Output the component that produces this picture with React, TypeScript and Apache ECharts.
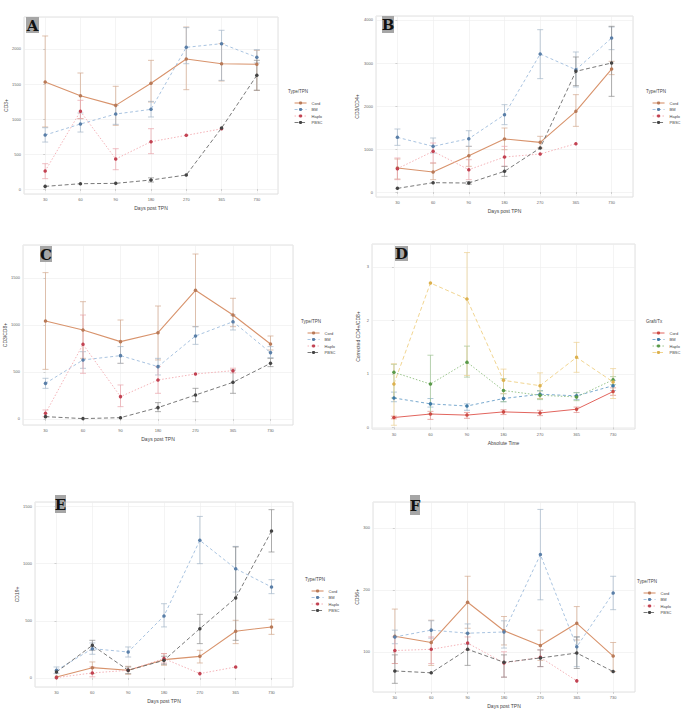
import React, { useEffect, useRef } from "react";
import * as echarts from "echarts";

const DAYS = ["30", "60", "90", "180", "270", "365", "730"];
const GROUPS = ["Cord", "BM", "Haplo", "PBSC"];

// Panel A (CD3+)
const A_MEAN = [
  [1529, 1333, 1195, 1510, 1857, 1790, 1781],
  [771, 929, 1071, 1138, 2024, 2076, 1881],
  [257, 1110, 429, 676, 767, 860, null],
  [38, 76, 81, 129, 200, 871, 1624],
];
const A_LOW = [
  [886, 1005, 910, 1243, 1419, 1543, 1410],
  [671, 814, 924, 1029, 1790, 1552, 1800],
  [148, 1005, 276, 505, null, null, null],
  [null, null, null, 100, null, null, 1410],
];
const A_HIGH = [
  [2186, 1657, 1467, 1838, 2314, 2076, 1981],
  [876, 1086, 1195, 1252, 2305, 2267, 1990],
  [362, 1267, 576, 862, null, null, null],
  [null, null, null, 160, null, null, 1838],
];

// Panel B
const B_MEAN = [
  [558, 465, 845, 1233, 1155, 1876, 2860],
  [1271, 1062, 1240, 1798, 3209, 2845, 3581],
  [543, 946, 519, 814, 884, 1124, null],
  [85, 217, 209, 481, 1023, 2806, 3000],
];
const B_LOW = [
  [302, 287, 597, 984, 1023, 1527, 2729],
  [1085, 907, 1062, 1566, 2636, 2442, 3310],
  [287, 674, 287, 597, null, null, null],
  [null, null, 180, 364, null, 2473, 2225],
];
const B_HIGH = [
  [767, 674, 1062, 1488, 1295, 2264, 3039],
  [1465, 1256, 1426, 2031, 3775, 3256, 3837],
  [791, 1140, 752, 1062, null, null, null],
  [null, null, 240, 597, null, 3140, 3853],
];

// Panel C
const C_MEAN = [
  [1043, 947, 823, 918, 1369, 1106, 798],
  [379, 628, 674, 557, 883, 1035, 706],
  [60, 794, 238, 415, 479, 514, null],
  [25, 4, 14, 121, 255, 390, 592],
];
const C_LOW = [
  [528, 645, 592, 628, 982, 982, 734],
  [326, 539, 592, 468, 794, 947, 652],
  [25, 486, 131, 273, null, 490, null],
  [null, null, null, 78, 184, 273, 557],
];
const C_HIGH = [
  [1557, 1248, 1053, 1202, 1755, 1284, 883],
  [433, 716, 770, 645, 982, 1106, 770],
  [96, 1106, 362, 557, null, 540, null],
  [null, null, null, 174, 326, 521, 645],
];

// Panel D
const D_MEAN = [
  [0.185, 0.25, 0.23, 0.29, 0.27, 0.34, 0.67],
  [0.55, 0.44, 0.4, 0.54, 0.62, 0.59, 0.78],
  [1.03, 0.81, 1.22, 0.69, 0.6, 0.57, 0.89],
  [0.81, 2.7, 2.4, 0.88, 0.78, 1.31, 0.85],
];
const D_LOW = [
  [0.16, 0.15, 0.17, 0.24, 0.22, 0.28, 0.6],
  [0.48, 0.38, 0.32, 0.48, 0.54, 0.52, 0.69],
  [0.55, 0.25, 0.94, 0.48, 0.52, 0.5, 0.8],
  [0.04, null, 0.97, 0.63, 0.54, 1.03, 0.54],
];
const D_HIGH = [
  [0.21, 0.3, 0.28, 0.33, 0.32, 0.38, 0.74],
  [0.66, 0.54, 0.44, 0.63, 0.69, 0.65, 0.88],
  [1.18, 1.35, 1.52, 0.91, 0.68, 0.65, 0.95],
  [1.19, null, 3.27, 1.09, 1.02, 1.59, 1.1],
];

// Panel E
const E_MEAN = [
  [9, 90, 67, 160, 189, 408, 446],
  [67, 256, 227, 542, 1203, 955, 795],
  [3, 44, 67, 169, 38, 96, null],
  [52, 285, 67, 154, 431, 699, 1284],
];
const E_LOW = [
  [null, 38, 32, 111, 131, 300, 381],
  [38, 207, 183, 446, 999, 751, 737],
  [null, 10, null, 130, null, null, null],
  [null, 242, 38, 120, 300, 329, 1101],
];
const E_HIGH = [
  [null, 140, 102, 213, 242, 504, 513],
  [96, 306, 271, 649, 1412, 1150, 859],
  [null, 96, null, 213, null, null, null],
  [null, 329, 96, 190, 556, 1145, 1471],
];

// Panel F
const F_MEAN = [
  [125, 115, 180, 134, 110, 146, 93],
  [124, 135, 130, 132, 257, 108, 195],
  [102, 104, 114, 82, 91, 53, null],
  [69, 66, 104, 83, 90, 98, 68],
];
const F_LOW = [
  [81, 78, 138, 111, 86, 119, 68],
  [113, 122, 112, 106, 184, 76, 168],
  [81, 81, 103, 59, 76, null, null],
  [49, null, 78, 59, 76, 73, null],
];
const F_HIGH = [
  [169, 151, 222, 157, 135, 173, 115],
  [135, 150, 145, 150, 330, 124, 222],
  [124, 124, 124, 100, 103, null, null],
  [95, null, 130, 95, 103, 124, null],
];

const STYLE_MAIN = [
  { line: "#d8936c", pt: "#b97a58", err: "#d2a78c", type: "solid", width: 1.1 },
  { line: "#9ebcdd", pt: "#5a7fa8", err: "#a4b6c9", type: [3, 2.5], width: 0.9 },
  { line: "#f3aab0", pt: "#c24252", err: "#eaa3aa", type: [1.5, 1.8], width: 0.9 },
  { line: "#6a6a6a", pt: "#444444", err: "#8c8c8c", type: [4, 2.5], width: 0.9 },
];
const STYLE_D = [
  { line: "#e2655e", pt: "#cc4a44", err: "#e08a85", type: "solid", width: 1 },
  { line: "#6a9fc8", pt: "#3f7aa6", err: "#8db0cc", type: [3, 2.5], width: 0.9 },
  { line: "#8fbe80", pt: "#5a9a4a", err: "#9cc290", type: [1.5, 1.8], width: 0.9 },
  { line: "#efd084", pt: "#dcb14e", err: "#ecd090", type: [4, 2.5], width: 0.9 },
];

const PANELS = [
  { letter: "A", mean: A_MEAN, low: A_LOW, high: A_HIGH, styles: STYLE_MAIN, yName: "CD3+", xName: "Days post TPN", legendTitle: "Type/TPN",
    grid: { left: 24, top: 17, width: 254, height: 177 }, yMin: -71, yMax: 2457, split: 5, nameGap: 16,
    legend: { left: 289, top: 96 }, letterBox: { x: 26, y: 17, w: 13, h: 16 } },
  { letter: "B", mean: B_MEAN, low: B_LOW, high: B_HIGH, styles: STYLE_MAIN, yName: "CD3/CD4+", xName: "Days post TPN", legendTitle: "Type/TPN",
    grid: { left: 376, top: 16, width: 257, height: 181 }, yMin: -116, yMax: 4093, split: 4, nameGap: 17,
    legend: { left: 647, top: 96 }, letterBox: { x: 382, y: 16, w: 12, h: 17 } },
  { letter: "C", mean: C_MEAN, low: C_LOW, high: C_HIGH, styles: STYLE_MAIN, yName: "CD3/CD8+", xName: "Days post TPN", legendTitle: "Type/TPN",
    grid: { left: 23, top: 245, width: 270, height: 180 }, yMin: -64, yMax: 1851, split: 4, nameGap: 15,
    legend: { left: 302, top: 326 }, letterBox: { x: 40, y: 246, w: 12, h: 16 } },
  { letter: "D", mean: D_MEAN, low: D_LOW, high: D_HIGH, styles: STYLE_D, yName: "Corrected CD4+/CD8+", xName: "Absolute Time", legendTitle: "Graft/Tx",
    grid: { left: 372, top: 244, width: 263, height: 185 }, yMin: -0.03, yMax: 3.43, split: 3, nameGap: 12,
    legend: { left: 647, top: 326 }, letterBox: { x: 395, y: 246, w: 13, h: 15 } },
  { letter: "E", mean: E_MEAN, low: E_LOW, high: E_HIGH, styles: STYLE_MAIN, yName: "CD19+", xName: "Days post TPN", legendTitle: "Type/TPN",
    grid: { left: 35, top: 502, width: 258, height: 185 }, yMin: -79, yMax: 1538, split: 3, nameGap: 14,
    legend: { left: 306, top: 584 }, letterBox: { x: 55, y: 495, w: 11, h: 18 } },
  { letter: "F", mean: F_MEAN, low: F_LOW, high: F_HIGH, styles: STYLE_MAIN, yName: "CD56+", xName: "Days post TPN", legendTitle: "Type/TPN",
    grid: { left: 373, top: 502, width: 262, height: 190 }, yMin: 35, yMax: 342, split: 3, nameGap: 13,
    legend: { left: 638, top: 586 }, letterBox: { x: 410, y: 495, w: 10, h: 20 } },
];

const FONT = "Liberation Sans";

function buildOption() {
  const grid: any[] = [];
  const xAxis: any[] = [];
  const yAxis: any[] = [];
  const series: any[] = [];
  const legend: any[] = [];
  const graphic: any[] = [];

  PANELS.forEach((p, pi) => {
    grid.push({
      ...p.grid,
      show: true,
      borderColor: "#d8d8d8",
      borderWidth: 0.8,
      backgroundColor: "#ffffff",
    });
    xAxis.push({
      type: "value",
      gridIndex: pi,
      min: -0.6,
      max: 6.6,
      splitNumber: 7,
      minInterval: 1,
      name: p.xName,
      nameLocation: "middle",
      nameGap: 11,
      nameTextStyle: { fontSize: 5, color: "#444", fontFamily: FONT },
      axisLine: { show: false },
      axisTick: { show: true, length: 2, lineStyle: { color: "#aaa", width: 0.5 } },
      axisLabel: {
        fontSize: 4,
        color: "#666",
        margin: 3,
        fontFamily: FONT,
        showMinLabel: false,
        showMaxLabel: false,
        formatter: (v: number) => (Number.isInteger(v) && DAYS[v] !== undefined ? DAYS[v] : ""),
      },
      splitLine: { show: true, lineStyle: { color: "#ededed", width: 0.6 } },
    });
    yAxis.push({
      type: "value",
      gridIndex: pi,
      min: p.yMin,
      max: p.yMax,
      splitNumber: p.split,
      name: p.yName,
      nameLocation: "middle",
      nameGap: p.nameGap,
      nameRotate: 90,
      nameTextStyle: { fontSize: 5, color: "#444", fontFamily: FONT },
      axisLine: { show: false },
      axisTick: { show: true, length: 2, lineStyle: { color: "#aaa", width: 0.5 } },
      axisLabel: {
        fontSize: 4,
        color: "#666",
        margin: 3,
        fontFamily: FONT,
        showMinLabel: false,
        showMaxLabel: false,
        formatter: (v: number) => String(v),
      },
      splitLine: { show: true, lineStyle: { color: "#ededed", width: 0.6 } },
    });

    GROUPS.forEach((g, gi) => {
      const st = p.styles[gi];
      const errData: any[] = [];
      p.low[gi].forEach((lo: any, i: number) => {
        const hi = p.high[gi][i];
        if (lo !== null && hi !== null) errData.push([i, lo, hi]);
      });
      series.push({
        type: "custom",
        xAxisIndex: pi,
        yAxisIndex: pi,
        silent: true,
        z: 2,
        encode: { x: 0, y: [1, 2] },
        data: errData,
        renderItem: (params: any, api: any) => {
          const x = api.value(0);
          const p1 = api.coord([x, api.value(1)]);
          const p2 = api.coord([x, api.value(2)]);
          const w = 3;
          const s = { stroke: st.err, lineWidth: 0.7 };
          return {
            type: "group",
            children: [
              { type: "line", shape: { x1: p1[0], y1: p1[1], x2: p2[0], y2: p2[1] }, style: s },
              { type: "line", shape: { x1: p1[0] - w, y1: p1[1], x2: p1[0] + w, y2: p1[1] }, style: s },
              { type: "line", shape: { x1: p2[0] - w, y1: p2[1], x2: p2[0] + w, y2: p2[1] }, style: s },
            ],
          };
        },
      });
      series.push({
        type: "line",
        name: g,
        xAxisIndex: pi,
        yAxisIndex: pi,
        z: 3,
        data: p.mean[gi].map((v: any, i: number) => [i, v]),
        symbol: "circle",
        symbolSize: 3.5,
        showSymbol: true,
        lineStyle: { color: st.line, width: st.width, type: st.type },
        itemStyle: { color: st.pt },
      });
    });

    legend.push({
      orient: "vertical",
      left: p.legend.left,
      top: p.legend.top,
      itemWidth: 12,
      itemHeight: 4,
      itemGap: 2.5,
      selectedMode: false,
      textStyle: { fontSize: 4, color: "#444", fontFamily: FONT },
      data: GROUPS.map((g, gi) => ({
        name: g,
        itemStyle: { color: p.styles[gi].pt },
        lineStyle: { color: p.styles[gi].line, type: p.styles[gi].type, width: p.styles[gi].width },
      })),
    });

    graphic.push({
      type: "text",
      left: p.legend.left - 1,
      top: p.legend.top - 7,
      style: { text: p.legendTitle, fontSize: 4.5, fill: "#444", fontFamily: FONT },
    });
    const b = p.letterBox;
    graphic.push({
      type: "rect",
      shape: { x: b.x, y: b.y, width: b.w, height: b.h },
      style: { fill: "#a6a6a6" },
      z: 10,
    });
    graphic.push({
      type: "text",
      x: b.x + b.w / 2,
      y: b.y + b.h / 2 + 0.5,
      style: {
        text: p.letter,
        fontSize: 15,
        fontWeight: "bold",
        fontFamily: "DejaVu Serif",
        fill: "#111",
        align: "center",
        verticalAlign: "middle",
      },
      z: 11,
    });
  });

  return {
    animation: false,
    backgroundColor: "#ffffff",
    grid,
    xAxis,
    yAxis,
    series,
    legend,
    graphic,
  };
}

export default function App() {
  const ref = useRef<HTMLDivElement>(null);
  useEffect(() => {
    if (!ref.current) return;
    const chart = echarts.init(ref.current, undefined, { renderer: "svg" });
    chart.setOption(buildOption());
    return () => chart.dispose();
  }, []);
  return (
    <div
      ref={ref}
      style={{ position: "fixed", left: 0, top: 0, width: 685, height: 710, background: "#fff" }}
    />
  );
}
